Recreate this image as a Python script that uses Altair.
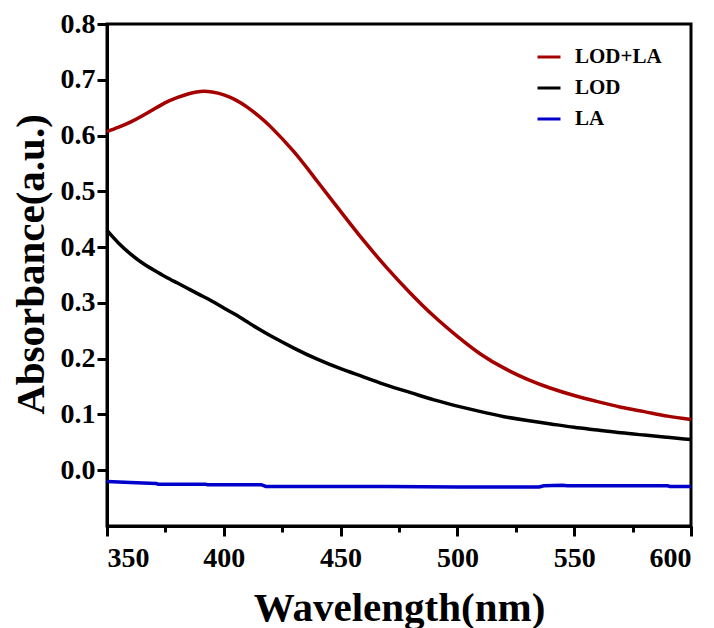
import altair as alt
import pandas as pd

wl_main = [350, 355, 360, 365, 370, 375, 380, 385, 390, 395, 400, 405, 410, 415, 420,
           430, 440, 450, 460, 470, 480, 490, 500, 510, 520, 530, 540, 550, 560,
           570, 580, 590, 600]
lod_la = [0.607, 0.615, 0.624, 0.635, 0.647, 0.659, 0.668, 0.675, 0.679, 0.678,
          0.673, 0.664, 0.651, 0.635, 0.616, 0.571, 0.518, 0.464, 0.411, 0.362,
          0.317, 0.276, 0.240, 0.208, 0.183, 0.163, 0.147, 0.134, 0.123, 0.113,
          0.105, 0.097, 0.091]
lod = [0.430, 0.407, 0.388, 0.372, 0.359, 0.347, 0.336, 0.325, 0.314, 0.303,
       0.291, 0.279, 0.266, 0.253, 0.241, 0.219, 0.199, 0.182, 0.167, 0.152,
       0.139, 0.126, 0.115, 0.105, 0.096, 0.089, 0.083, 0.077, 0.072, 0.067,
       0.063, 0.059, 0.055]
wl_la = [350, 360, 371, 372, 392, 393, 416, 418, 470, 500, 535, 537, 545, 547, 590, 591, 600]
la = [-0.020, -0.022, -0.024, -0.025, -0.025, -0.026, -0.026, -0.029, -0.029,
      -0.030, -0.030, -0.028, -0.027, -0.028, -0.028, -0.029, -0.029]

series_names = ["LOD+LA", "LOD", "LA"]
series_colors = ["#A50000", "#000000", "#0000CC"]
x_ticks = [350, 375, 400, 425, 450, 475, 500, 525, 550, 575, 600]
y_ticks = [0.0, 0.1, 0.2, 0.3, 0.4, 0.5, 0.6, 0.7, 0.8]

rows = []
for w, v in zip(wl_main, lod_la):
    rows.append({"wl": w, "abs": v, "s": "LOD+LA"})
for w, v in zip(wl_main, lod):
    rows.append({"wl": w, "abs": v, "s": "LOD"})
df_main = pd.DataFrame(rows)
df_la = pd.DataFrame({"wl": wl_la, "abs": la, "s": ["LA"] * len(la)})

FONT = "Liberation Serif"

x_enc = alt.X("wl:Q", scale=alt.Scale(domain=[350, 600], nice=False, zero=False),
              axis=alt.Axis(title="Wavelength(nm)", values=x_ticks,
                            labelExpr="datum.value % 50 === 0 ? datum.label : ''",
                            tickSize={"condition": {"test": "datum.value % 50 === 0", "value": 10}, "value": 6},
                            labelPadding=8, titleY=94, titleBaseline="alphabetic"))
y_enc = alt.Y("abs:Q", scale=alt.Scale(domain=[-0.1, 0.8], nice=False, zero=False),
              axis=alt.Axis(title="Absorbance(a.u.)", values=y_ticks, format=".1f",
                            tickSize=10, labelPadding=2, titleX=-64, titleY=240,
                            titleAngle=270, titleAlign="center", titleBaseline="alphabetic"))
c_enc = alt.Color("s:N", scale=alt.Scale(domain=series_names, range=series_colors),
                  legend=alt.Legend(title=None, orient="none", legendX=429, legendY=20,
                                    symbolType="stroke", symbolStrokeWidth=3, symbolSize=529,
                                    labelFont=FONT, labelFontSize=21, labelFontWeight="bold",
                                    labelColor="black", rowPadding=8, labelOffset=13))

main = alt.Chart(df_main).mark_line(strokeWidth=3.5, interpolate="natural").encode(
    x=x_enc, y=y_enc, color=c_enc)
blue = alt.Chart(df_la).mark_line(strokeWidth=3.5, interpolate="linear").encode(
    x=x_enc, y=y_enc, color=c_enc)

chart = alt.layer(main, blue).properties(
    width=584, height=502,
    autosize=alt.AutoSizeParams(type="none"),
    padding={"left": 107, "top": 24, "right": 23, "bottom": 102},
).configure_view(
    stroke="black", strokeWidth=3
).configure_axis(
    domainColor="black", domainWidth=3, tickColor="black", tickWidth=3,
    labelFont=FONT, labelFontSize=28, labelFontWeight="bold", labelColor="black",
    titleFont=FONT, titleFontSize=41, titleFontWeight="bold", titleColor="black",
    grid=False,
)

chart.save("out.html", embed_options={"renderer": "svg", "actions": False})
